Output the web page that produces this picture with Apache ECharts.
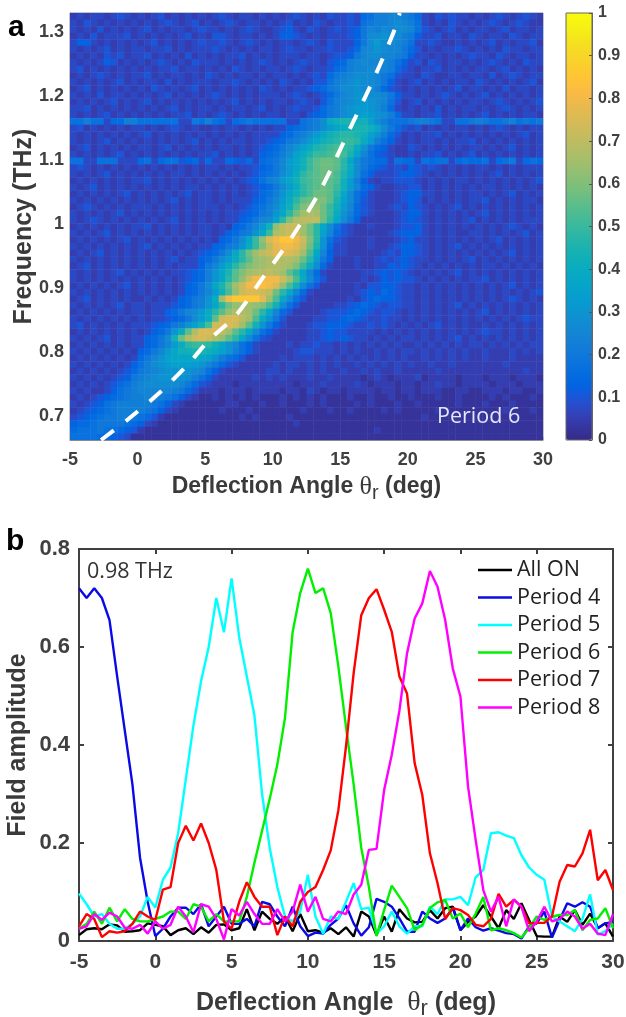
<!DOCTYPE html>
<html><head><meta charset="utf-8">
<style>html,body{margin:0;padding:0;background:#fff}#c{width:626px;height:1017px}</style>
<script src="https://cdn.jsdelivr.net/npm/echarts@6/dist/echarts.min.js"></script>
</head><body><div id="c"></div>
<script>
// Panel b
const angles=[-5,-4.5,-4,-3.5,-3,-2.5,-2,-1.5,-1,-0.5,0,0.5,1,1.5,2,2.5,3,3.5,4,4.5,5,5.5,6,6.5,7,7.5,8,8.5,9,9.5,10,10.5,11,11.5,12,12.5,13,13.5,14,14.5,15,15.5,16,16.5,17,17.5,18,18.5,19,19.5,20,20.5,21,21.5,22,22.5,23,23.5,24,24.5,25,25.5,26,26.5,27,27.5,28,28.5,29,29.5,30];
const allOn=[.012,.024,.026,.024,.034,.032,.019,.02,.022,.036,.033,.03,.012,.022,.026,.014,.028,.017,.033,.034,.022,.026,.065,.022,.06,.045,.035,.05,.02,.055,.02,.022,.017,.026,.014,.028,.009,.06,.05,.012,.05,.019,.065,.046,.038,.039,.063,.046,.067,.07,.022,.039,.05,.073,.05,.026,.063,.045,.077,.043,.01,.009,.009,.05,.039,.063,.033,.056,.026,.036,.009];
const period4=[.72,.70,.72,.70,.655,.54,.43,.32,.17,.08,.01,.025,.05,.068,.068,.055,.075,.03,.05,.07,.035,.035,.045,.03,.08,.075,.05,.03,.07,.03,.01,.017,.015,.033,.046,.073,.036,.011,.028,.086,.08,.07,.046,.019,.019,.06,.046,.037,.046,.067,.022,.046,.028,.021,.026,.021,.016,.014,.005,.03,.036,.06,.007,.043,.077,.07,.079,.07,.026,.036,.039];
const period5=[.097,.075,.05,.055,.035,.025,.025,.035,.05,.09,.068,.125,.15,.22,.33,.44,.53,.60,.70,.63,.74,.62,.54,.46,.30,.19,.11,.05,.04,.06,.135,.05,.015,.05,.045,.08,.118,.065,.068,.015,.03,.06,.03,.015,.03,.03,.07,.055,.085,.085,.09,.073,.13,.145,.22,.222,.215,.21,.175,.15,.135,.125,.05,.04,.03,.02,.045,.095,.013,.02,.035];
const period6=[.025,.035,.06,.035,.068,.04,.065,.045,.04,.04,.045,.05,.06,.06,.045,.075,.07,.04,.055,.04,.04,.04,.09,.16,.225,.29,.36,.455,.63,.71,.76,.71,.72,.669,.56,.437,.32,.19,.11,.01,.063,.113,.09,.067,.022,.033,.067,.079,.084,.046,.056,.028,.056,.09,.022,.026,.022,.016,.007,.026,.05,.043,.05,.053,.053,.063,.022,.043,.046,.067,.026];
const period7=[.03,.055,.045,.008,.02,.017,.02,.035,.06,.05,.043,.105,.11,.2,.235,.205,.24,.2,.145,.04,.025,.08,.12,.09,.07,.07,.012,.05,.03,.08,.1,.11,.145,.185,.267,.397,.546,.665,.70,.718,.676,.631,.54,.505,.363,.298,.179,.118,.045,.067,.063,.053,.033,.03,.045,.096,.07,.084,.07,.036,.037,.037,.05,.121,.155,.152,.179,.227,.124,.145,.104];
const period8=[.025,.03,.055,.043,.058,.05,.027,.025,.033,.015,.04,.025,.033,.07,.05,.018,.075,.07,.045,.003,.065,.052,.08,.055,.035,.035,.065,.04,.06,.115,.06,.09,.045,.04,.06,.055,.095,.115,.186,.188,.308,.38,.47,.587,.658,.689,.755,.723,.655,.556,.499,.315,.206,.104,.06,.09,.03,.085,.07,.02,.04,.07,.04,.045,.06,.05,.025,.035,.015,.012,.055];
const seriesNames=['All ON','Period 4','Period 5','Period 6','Period 7','Period 8'];
const seriesValues=[allOn,period4,period5,period6,period7,period8];
const seriesColors=['#000000','#0a0ae6','#00ffff','#00f000','#ff0000','#ff00ff'];
// Panel a: dashed curve (angle, frequency)
const curveAngle=[-2.7,-0.7,1.6,3.7,5.3,7.3,9.3,11.4,13.5,15.85,17.6,19,19.4];
const curveFreq=[.6625,.695,.736,.78,.819,.858,.917,.979,1.052,1.155,1.233,1.303,1.33];
// Panel a: one string per frequency row, top row first; one character per 0.5 deg cell, base 36, in units of 0.025
const heatRows=[
"2323323432 3234232323 2343233232 3234323243 3436799aa9 8632434332 3234323432",
"3243232323 2323432342 3234323323 2342324323 3437899aba 9732324323 2343234322",
"3232423232 3423233234 3323234322 3453243234 3458a9babb a743234232 3323423323",
"2324233342 3232323423 2443233232 3554323233 3458bbcbb9 8533423324 3233243233",
"3553232323 2342323234 3343234323 2332343243 3358bdbba9 7334322323 2342323342",
"3232342323 3233423233 3432323233 2343323343 346abcbaa8 6423233432 3232433233",
"2323243423 3423232423 2323342323 2333233234 458abbaa98 5332323234 3324323323",
"3232354232 3234323243 3323232343 2323433245 69abaaa975 3424323323 2343232433",
"3423232323 2323342332 3232432323 3234323346 79aabaa964 3233423232 3323423232",
"2323432323 3423233232 4323233232 3323234368 9abbba8743 3243223323 3242343233",
"3232323423 2332423233 3233432323 2432324479 abcbba8532 3423232332 4323232342",
"2342323232 3243232342 3232323243 2323345689 bbcbb96432 3232323423 3232423323",
"3232423323 2323423232 3432323233 3234323468 abccbba853 3232343232 3423232323",
"2323234232 3423232323 2323423232 3323432479 abcdcba742 3423232323 3234323234",
"3342323232 3232342323 3232332342 3234334689 bcddcb9632 3232423233 2323432323",
"3232342323 2323233423 2343232323 3233245689 bcdedcb963 3233423232 3423232332",
"7797736699 7777773387 9763678777 7733789bgh iihheb9777 8998733778 9877897878",
"3423232323 3232343232 2323323232 3356789bdf ghiihfb864 3423232332 3234323233",
"3232323232 3423232323 2323232333 35689bdfhi jjihec9642 3233423232 3232323423",
"3232342323 2323232342 3232332334 5689bdfhij kkjgd97532 3233232334 2323232323",
"2342323232 3323423232 3233232345 68acegijkl kjgc865322 4323232323 3232342323",
"3232323423 2323232323 3423232356 79begikklm liea754322 3233423234 2323232323",
"7733777333 6736774563 6336546367 8adfhkmnnm jfb8766376 6376773676 6736783676",
"3432323232 3232323232 3323233456 8adfhkmnnm jgb8654343 5434323232 3323232333",
"3232342323 2323233232 3232323467 8bdgjlmnnl ifb7533345 5432323232 3234232323",
"2323232323 3423232323 2323234579 adfhklmnml hd95323344 4323232332 3232323234",
"3234232323 2323232332 3232323456 8bdgjlmnmk hda6532233 4423232323 2332323232",
"2323232342 3232323423 3232323467 9cfhjlnnmj fb75322234 5533232323 3232342323",
"3232323232 3232342323 3232333568 adgjmnoomi eb74322234 5423232323 3423232332",
"2343232323 3323232323 3323234679 behloppnkh da64322343 5432323423 2323232323",
"3232323423 2323232323 2323345689 cfjnqrqnkg c964322234 5532323232 3423232323",
"3234323232 3232342323 23233568ab ejorsssnjf b852222234 5432323234 2323232333",
"2323232323 3423232323 3232568adh psttqnjfb7 4322322234 4532323232 3232343232",
"3232342323 2323232323 3235689cfk rsttqnjea6 4322222345 5532323223 3232323423",
"2323232342 3232323232 32568bfkpu wyywtojc74 3222322234 5332323232 3234232323",
"3232323232 3423232323 35689cgkos vwwvsnic63 3222322345 5432323423 2323232323",
"2323423232 3232323234 568bfjnqst vvutqlfa53 3222223435 5432323232 3232342323",
"3232323232 3232342335 68bdgjmpqr srrqnjd852 2232234345 4332323234 2323232323",
"2342323232 3232323335 8adgjmopqr rrqokgb632 2232233545 4323232323 2332323232",
"3232323423 2323233456 9cfimoqrrs rqmjfa6322 2223345454 3232323423 2323232323",
"3232323232 3232323456 9cfjmptwww wtqlgb7422 2223235454 4323232323 3423232323",
"2323232342 3232323568 bfimqtwwxw uplhb74222 2232445543 3232323232 3232342323",
"3232323232 3232323568 adhlptuuts njfa632222 2234546543 3232323232 3232323234",
"2342323232 2323235689 cgqwyyyyvq lfb7422222 2324565543 3232323232 3232343232",
"3232323423 3233345689 cfjnpqqpol hb74222223 3456543443 3232323423 2323232323",
"2323232323 3233568abd gjmprrqnjf a642222344 4565434432 3232323232 3423232323",
"3232323232 32334568bd gmtuusqlgc 8422223344 5654334332 3232323232 3232323433",
"3423232323 3345689ceh ltuutqmhc8 5322234455 5433434323 2323423232 2323232323",
"2323232323 23568cgmru uusqmjfb75 3222233454 4333323232 3232323232 3433232323",
"3232342323 3568bhnrtu trpmjfb743 2222233454 5433232323 3232323423 2323232323",
"2323232323 3568adgjkk jhfca75322 2232334332 3232323232 2323232323 3232323233",
"3232323232 568adfhhii hgec975322 2223443332 3232232323 3232323232 2322232323",
"2323232323 68acefffgf ec97642222 2323332323 2323232323 2232323232 2322232222",
"3232323235 79bcdeeedc a864322222 3233232323 2232323232 3223223222 2222322222",
"2323232346 89abccdcba 7532222223 3232232322 3223232232 2222322222 2222222322",
"3232323458 9abccccb97 5322222323 2322232232 2221232122 2312222122 2122212221",
"2323234679 abbbbba864 3222122222 2221222322 2232122212 2122322122 2212221222",
"3232235789 aaaaa98642 2212221222 2122132122 1222212212 2122211221 1222122112",
"2323456789 9aa9875321 1212121211 1212121211 1211211211 2111211211 1121211121",
"3234578999 9987532111 1112211121 1211121211 1121211121 1211111211 1211121111",
"2345678999 9875321111 1121112111 1111211121 1211112121 1111211111 1111211121",
"3456788998 7642111111 1111121211 1121111111 1111111111 1121111111 1111111111",
"5667888876 5321111111 1111111111 1112111111 1111111111 1111111111 1111111111",
"6777877654 2111111111 1111111111 1111111111 1111121111 1111111111 1111111111",
"7777665431 1111111111 1111111111 1111111111 1111111111 1111111111 1111111111"
];
const yTicksA=[0.7,0.8,0.9,1,1.1,1.2,1.3];
const parula=['#352a87','#3637a0','#3243ba','#2053d4','#0363e1','#046de0','#0d75dc','#127dd8','#1485d4','#108ed2','#0998d1','#06a0cd','#06a7c6','#0aacbe','#15b1b4','#25b5a9','#38b99e','#4dbc92','#65be86','#7cbf7b','#92bf73','#a5be6b','#b7bd64','#c8bb5d','#d9ba56','#e9b94e','#f8ba44','#ffc337','#fccd2e','#f7d826','#f4e41d','#f6f213','#f9fb0e'];

const fMin=0.6625,fMax=1.33,cellW=0.5,cellH=(fMax-fMin)/heatRows.length;
const heatData=[];
heatRows.forEach((s,r)=>{[...s.replace(/ /g,'')].forEach((ch,c)=>{
  heatData.push([-5+cellW*(c+.5),fMax-cellH*(r+.5),parseInt(ch,36)*0.025]);
});});
const SANS='"Liberation Sans",Arial,sans-serif',OPEN='"Open Sans",sans-serif',GREY='#404040';
function titleRich(size){return {
  b:{fontFamily:SANS,fontWeight:'bold',fontSize:size,color:'#3a3a3a'},
  t:{fontFamily:'"Liberation Serif",serif',fontWeight:'normal',fontSize:size+3,color:'#3a3a3a'},
  s:{fontFamily:SANS,fontWeight:'normal',fontSize:size-3,color:'#3a3a3a',padding:[12,0,0,0]}
};}
const chart=echarts.init(document.getElementById('c'),null,{renderer:'canvas'});
chart.setOption({
  animation:false,
  backgroundColor:'#fff',
  grid:[
    {left:70,top:13,width:473,height:427,outerBoundsMode:'none',show:true,borderColor:'#8a8a8a',borderWidth:1,backgroundColor:'transparent'},
    {left:566,top:13,width:26,height:427,outerBoundsMode:'none',show:true,borderColor:'#666',borderWidth:1,backgroundColor:'transparent',z:10},
    {left:79,top:549,width:534,height:392,outerBoundsMode:'none'}
  ],
  xAxis:[
    {gridIndex:0,type:'value',min:-5,max:30,interval:5,splitLine:{show:false},
     axisLine:{onZero:false,lineStyle:{color:'#8a8a8a'}},axisTick:{inside:true,length:3,lineStyle:{color:'#aaa'}},
     axisLabel:{fontFamily:SANS,fontWeight:'bold',fontSize:18,color:GREY,margin:11,hideOverlap:false,showMinLabel:true,showMaxLabel:true},
     name:'{b|Deflection Angle }{t|θ}{s|r}{b| (deg)}',nameLocation:'middle',nameGap:31,nameMoveOverlap:false,nameTextStyle:{rich:titleRich(23)}},
    {gridIndex:1,type:'value',min:0,max:1,show:false},
    {gridIndex:2,type:'value',min:-5,max:30,interval:5,splitLine:{show:false},
     axisLine:{onZero:false,lineStyle:{color:GREY,width:2}},axisTick:{inside:true,length:5,lineStyle:{color:GREY,width:2}},
     axisLabel:{fontFamily:SANS,fontWeight:'bold',fontSize:21,color:GREY,margin:11,showMinLabel:true,showMaxLabel:true},
     name:'{b|Deflection Angle  }{t|θ}{s|r}{b| (deg)}',nameLocation:'middle',nameGap:45,nameMoveOverlap:false,nameTextStyle:{rich:titleRich(25)}},
    {gridIndex:2,type:'value',position:'top',min:-5,max:30,interval:5,splitLine:{show:false},
     axisLine:{onZero:false,lineStyle:{color:GREY,width:2}},axisTick:{inside:true,length:5,lineStyle:{color:GREY,width:2}},axisLabel:{show:false}}
  ],
  yAxis:[
    {gridIndex:0,type:'value',min:fMin,max:fMax,splitLine:{show:false},
     axisLine:{onZero:false,lineStyle:{color:'#8a8a8a'}},
     axisTick:{inside:true,length:3,lineStyle:{color:'#aaa'},customValues:yTicksA},
     axisLabel:{fontFamily:SANS,fontWeight:'bold',fontSize:18,color:GREY,margin:6,customValues:yTicksA,formatter:v=>String(+(+v).toFixed(1))},
     name:'Frequency (THz)',nameLocation:'middle',nameGap:33,nameMoveOverlap:false,nameTextStyle:{fontFamily:SANS,fontWeight:'bold',fontSize:25,color:'#3a3a3a'}},
    {gridIndex:1,type:'value',position:'right',min:0,max:1,interval:0.1,splitLine:{show:false},
     axisLine:{onZero:false,lineStyle:{color:'#666'}},axisTick:{inside:true,length:3,lineStyle:{color:'#555'}},
     axisLabel:{fontFamily:SANS,fontWeight:'bold',fontSize:16,color:GREY,margin:6,showMinLabel:true,showMaxLabel:true,formatter:v=>String(+(+v).toFixed(1))},z:10},
    {gridIndex:2,type:'value',min:0,max:0.8,interval:0.2,splitLine:{show:false},
     axisLine:{onZero:false,lineStyle:{color:GREY,width:2}},axisTick:{inside:true,length:5,lineStyle:{color:GREY,width:2}},
     axisLabel:{fontFamily:SANS,fontWeight:'bold',fontSize:22,color:GREY,margin:9,showMinLabel:true,showMaxLabel:true,formatter:v=>String(+(+v).toFixed(1))},
     name:'Field amplitude',nameLocation:'middle',nameGap:48,nameMoveOverlap:false,nameTextStyle:{fontFamily:SANS,fontWeight:'bold',fontSize:25,color:'#3a3a3a'}},
    {gridIndex:2,type:'value',position:'right',min:0,max:0.8,interval:0.2,splitLine:{show:false},
     axisLine:{onZero:false,lineStyle:{color:GREY,width:2}},axisTick:{inside:true,length:5,lineStyle:{color:GREY,width:2}},axisLabel:{show:false}}
  ],
  visualMap:{type:'continuous',seriesIndex:0,dimension:2,min:0,max:1,inRange:{color:parula},
    left:566,top:13,itemWidth:26,itemHeight:427,padding:0,calculable:false,hoverLink:false,text:null,showLabel:false},
  legend:{orient:'vertical',left:478,top:559,padding:0,icon:'rect',itemWidth:34,itemHeight:2.5,itemGap:5.5,selectedMode:false,
    data:seriesNames,textStyle:{fontFamily:OPEN,fontSize:21.5,color:'#222'}},
  graphic:[
    {type:'text',left:8,top:13,style:{text:'a',font:'bold 30px '+SANS,fill:'#000'}},
    {type:'text',left:6,top:527,style:{text:'b',font:'bold 30px '+SANS,fill:'#000'}},
    {type:'text',left:437,top:406,z:20,style:{text:'Period 6',font:'21.5px '+OPEN,fill:'#e4e6f8'}},
    {type:'text',left:87,top:561,z:20,style:{text:'0.98 THz',font:'21.5px '+OPEN,fill:'#333'}}
  ],
  series:[
    {type:'custom',xAxisIndex:0,yAxisIndex:0,data:heatData,encode:{x:0,y:1},clip:true,progressive:0,silent:true,
     renderItem:(p,api)=>{
       const a=api.coord([api.value(0)-cellW/2,api.value(1)+cellH/2]);
       const b=api.coord([api.value(0)+cellW/2,api.value(1)-cellH/2]);
       return {type:'rect',shape:{x:a[0],y:a[1],width:b[0]-a[0]+.5,height:b[1]-a[1]+.5},style:{fill:api.visual('color')}};
     }},
    {type:'line',xAxisIndex:0,yAxisIndex:0,z:6,smooth:0.3,symbol:'none',silent:true,clip:true,
     data:curveAngle.map((x,i)=>[x,curveFreq[i]]),
     lineStyle:{color:'#fff',width:4,type:[16,15]}},
    ...seriesNames.map((n,k)=>({type:'line',name:n,xAxisIndex:2,yAxisIndex:2,symbol:'none',silent:true,clip:false,
      data:seriesValues[k].map((v,i)=>[angles[i],v]),
      lineStyle:{color:seriesColors[k],width:2.4},itemStyle:{color:seriesColors[k]}}))
  ]
});
</script></body></html>
